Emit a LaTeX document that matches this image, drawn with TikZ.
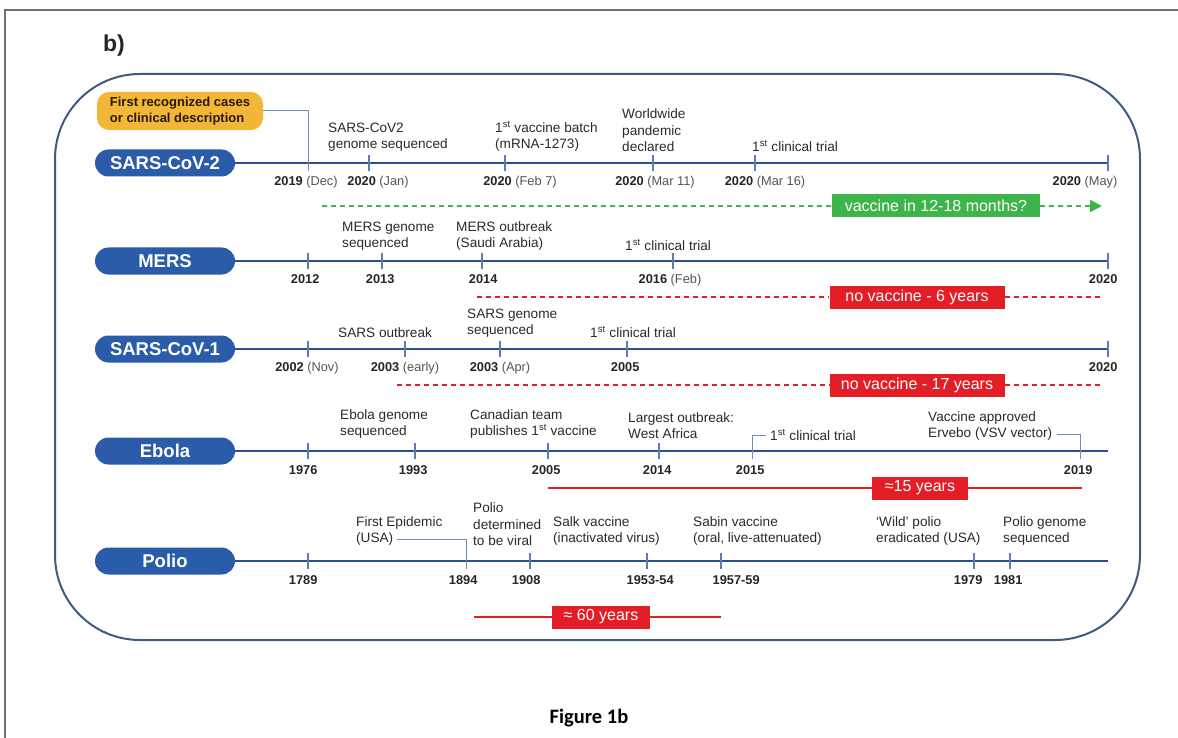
\documentclass[tikz,border=0pt]{standalone}
\usepackage{fontspec}
\setmainfont{Liberation Sans}
\newfontfamily\capfont{Carlito}
\usetikzlibrary{arrows.meta,positioning}

\definecolor{pillblue}{HTML}{2A5CAA}
\definecolor{axisblue}{HTML}{2E4F8F}
\definecolor{tickblue}{HTML}{5F7DB0}
\definecolor{linkblue}{HTML}{6F8CBB}
\definecolor{framecol}{HTML}{3F5B80}
\definecolor{caseyellow}{HTML}{F4B636}
\definecolor{vgreen}{HTML}{3DB54A}
\definecolor{vred}{HTML}{E31E26}
\definecolor{evtgray}{HTML}{2B2B2B}
\definecolor{dategray}{HTML}{555555}

\newcommand{\evtfont}{\fontsize{13.6}{16.5}\selectfont}
\newcommand{\yrfont}{\fontsize{12.8}{15}\selectfont}
\newcommand{\pillfont}{\bfseries\fontsize{18.5}{18.5}\selectfont}
\newcommand{\boxfont}{\fontsize{16}{16}\selectfont}
\newcommand{\yrnote}[2]{\textbf{#1} {\color{dategray}#2}}

\tikzset{
  pill/.style={fill=pillblue, text=white, font=\pillfont, minimum width=140pt,
    minimum height=27pt, rounded corners=13.5pt, inner sep=0pt},
  axis/.style={draw=axisblue, line width=2.4pt},
  tickmark/.style={draw=tickblue, line width=1.1pt},
  evt/.style={anchor=south west, align=left, inner sep=0pt, text=evtgray, font=\evtfont},
  yr/.style={anchor=north, inner sep=0pt, text=black!85, font=\yrfont},
  link/.style={draw=linkblue, line width=1pt},
  gapbox/.style={fill=#1, text=white, font=\boxfont, minimum height=23pt, inner sep=0pt},
  gdash/.style={draw=vgreen, line width=2pt, dash pattern=on 5pt off 4pt},
  rdash/.style={draw=vred, line width=2pt, dash pattern=on 5pt off 4pt},
  rspan/.style={draw=vred, line width=2.2pt},
  frame/.style={draw=framecol, line width=2pt, rounded corners=85pt},
  pagerule/.style={draw=black!55, line width=1.5pt}
}

\begin{document}
\begin{tikzpicture}[x=1pt, y=-1pt]
  \useasboundingbox (0,0) rectangle (1178,738);
  \fill[white] (0,0) rectangle (1178,738);
  \draw[pagerule] (5,738) -- (5,10) -- (1178,10);
  \node[font=\bfseries\fontsize{23}{23}\selectfont, text=black!85] (panel) at (114,46) {b)};
  \draw[frame] (55,74) rectangle (1140,640);

  % SARS-CoV-2
  \node[pill] (sctwo) at (165,163) {SARS-CoV-2};
  \coordinate (sctwoend) at (1108,163);
  \draw[axis] (sctwo.east) -- (sctwoend);
  \foreach \x in {369,505,653,755,1108}
    \draw[tickmark] (\x,155) -- (\x,171);
  \node[fill=caseyellow, rounded corners=12pt, align=left, inner sep=0pt,
    minimum width=166pt, minimum height=38pt, text=black!80!brown,
    font=\bfseries\fontsize{13}{15.5}\selectfont] (sctwo-first) at (180,111)
    {First recognized cases\\or clinical description};
  \coordinate (sctwo-dec) at (308,171);
  \draw[link] (sctwo-first.east) -| (sctwo-dec);
  \node[evt] (sctwo-genome) at (328,152) {SARS-CoV2\\genome sequenced};
  \node[evt] (sctwo-batch) at (495,152) {1\textsuperscript{st} vaccine batch\\(mRNA-1273)};
  \node[evt] (sctwo-who) at (622,152) {Worldwide\\pandemic\\declared};
  \node[evt] (sctwo-trial) at (752,152) {1\textsuperscript{st} clinical trial};
  \foreach \x/\y/\n [count=\i] in {306/2019/(Dec), 378/2020/(Jan), 520/2020/(Feb 7),
      655/2020/(Mar 11), 765/2020/(Mar 16), 1085/2020/(May)}
    \node[yr] (sctwo-d\i) at (\x,176) {\yrnote{\y}{\n}};
  \coordinate (g0) at (322,206);
  \coordinate (g1) at (1102,206);
  \node[gapbox=vgreen, minimum width=208pt] (sctwo-gap) at (936,206) {vaccine in 12-18 months?};
  \draw[gdash] (g0) -- (sctwo-gap.west);
  \draw[gdash, -{Triangle[length=12pt,width=12pt]}] (sctwo-gap.east) -- (g1);

  % MERS
  \node[pill] (mers) at (165,261) {MERS};
  \coordinate (mersend) at (1108,261);
  \draw[axis] (mers.east) -- (mersend);
  \foreach \x in {308,382,482,673,1108}
    \draw[tickmark] (\x,253) -- (\x,269);
  \node[evt] (mers-genome) at (342,251) {MERS genome\\sequenced};
  \node[evt] (mers-outbreak) at (456,251) {MERS outbreak\\(Saudi Arabia)};
  \node[evt] (mers-trial) at (625,251) {1\textsuperscript{st} clinical trial};
  \foreach \x/\y/\n [count=\i] in {307/2012/{}, 382/2013/{}, 485/2014/{},
      670/2016/(Feb), 1105/2020/{}}
    \node[yr] (mers-d\i) at (\x,274) {\yrnote{\y}{\n}};
  \coordinate (m0) at (477,297);
  \coordinate (m1) at (1100,297);
  \node[gapbox=vred, minimum width=175pt] (mers-gap) at (917,297) {no vaccine - 6 years};
  \draw[rdash] (m0) -- (mers-gap.west);
  \draw[rdash] (mers-gap.east) -- (m1);

  % SARS-CoV-1
  \node[pill] (scone) at (165,349) {SARS-CoV-1};
  \coordinate (sconeend) at (1108,349);
  \draw[axis] (scone.east) -- (sconeend);
  \foreach \x in {308,405,500,627,1108}
    \draw[tickmark] (\x,341) -- (\x,357);
  \node[evt] (scone-outbreak) at (338,338) {SARS outbreak};
  \node[evt] (scone-genome) at (467,338) {SARS genome\\sequenced};
  \node[evt] (scone-trial) at (590,338) {1\textsuperscript{st} clinical trial};
  \foreach \x/\y/\n [count=\i] in {307/2002/(Nov), 405/2003/(early), 500/2003/(Apr),
      627/2005/{}, 1105/2020/{}}
    \node[yr] (scone-d\i) at (\x,362) {\yrnote{\y}{\n}};
  \coordinate (s0) at (397,385);
  \coordinate (s1) at (1100,385);
  \node[gapbox=vred, minimum width=175pt] (scone-gap) at (917,385) {no vaccine - 17 years};
  \draw[rdash] (s0) -- (scone-gap.west);
  \draw[rdash] (scone-gap.east) -- (s1);

  % Ebola
  \node[pill] (ebola) at (165,451) {Ebola};
  \coordinate (ebolaend) at (1108,451);
  \draw[axis] (ebola.east) -- (ebolaend);
  \foreach \x in {308,415,548,659}
    \draw[tickmark] (\x,443) -- (\x,459);
  \node[evt] (ebola-genome) at (340,439) {Ebola genome\\sequenced};
  \node[evt] (ebola-canada) at (470,439) {Canadian team\\publishes 1\textsuperscript{st} vaccine};
  \node[evt] (ebola-westafrica) at (628,439) {Largest outbreak:\\West Africa};
  \node[evt] (ebola-trial) at (770,441) {1\textsuperscript{st} clinical trial};
  \node[evt] (ebola-ervebo) at (928,441) {Vaccine approved\\Ervebo (VSV vector)};
  \coordinate (ebola-t15) at (752,459);
  \coordinate (ebola-t19) at (1080,459);
  \draw[link] ([xshift=-4pt]ebola-trial.west) -| (ebola-t15);
  \draw[link] ([xshift=5pt,yshift=7pt]ebola-ervebo.south east) -| (ebola-t19);
  \foreach \x/\y/\n [count=\i] in {305/1976/{}, 415/1993/{}, 548/2005/{},
      659/2014/{}, 752/2015/{}, 1080/2019/{}}
    \node[yr] (ebola-d\i) at (\x,465) {\yrnote{\y}{\n}};
  \coordinate (e0) at (548,488);
  \coordinate (e1) at (1082,488);
  \node[gapbox=vred, minimum width=96pt] (ebola-gap) at (920,488) {≈15 years};
  \draw[rspan] (e0) -- (ebola-gap.west);
  \draw[rspan] (ebola-gap.east) -- (e1);

  % Polio
  \node[pill] (polio) at (165,561) {Polio};
  \coordinate (polioend) at (1108,561);
  \draw[axis] (polio.east) -- (polioend);
  \foreach \x in {308,530,647,721,974,1010}
    \draw[tickmark] (\x,553) -- (\x,569);
  \node[evt] (polio-usa) at (356,546) {(USA)};
  \node[evt, above=3.5pt of polio-usa.north west, anchor=south west] (polio-epidemic) {First Epidemic};
  \node[evt] (polio-viral) at (473,546) {Polio\\determined\\to be viral};
  \node[evt] (polio-salk) at (553,546) {Salk vaccine\\(inactivated virus)};
  \node[evt] (polio-sabin) at (693,546) {Sabin vaccine\\(oral, live-attenuated)};
  \node[evt] (polio-wild) at (876,546) {`Wild' polio\\eradicated (USA)};
  \node[evt] (polio-genome) at (1003,546) {Polio genome\\sequenced};
  \coordinate (polio-t94) at (466,569);
  \draw[link] ([xshift=4pt]polio-usa.east) -| (polio-t94);
  \foreach \x/\y/\n [count=\i] in {305/1789/{}, 465/1894/{}, 528/1908/{},
      652/1953-54/{}, 738/1957-59/{}, 970/1979/{}, 1010/1981/{}}
    \node[yr] (polio-d\i) at (\x,575) {\yrnote{\y}{\n}};
  \coordinate (p0) at (474,617);
  \coordinate (p1) at (721,617);
  \node[gapbox=vred, minimum width=98pt] (polio-gap) at (601,617) {≈ 60 years};
  \draw[rspan] (p0) -- (polio-gap.west);
  \draw[rspan] (polio-gap.east) -- (p1);

  \node[font=\capfont\bfseries\fontsize{20.5}{20.5}\selectfont] (caption) at (589,718) {Figure 1b};
\end{tikzpicture}
\end{document}
